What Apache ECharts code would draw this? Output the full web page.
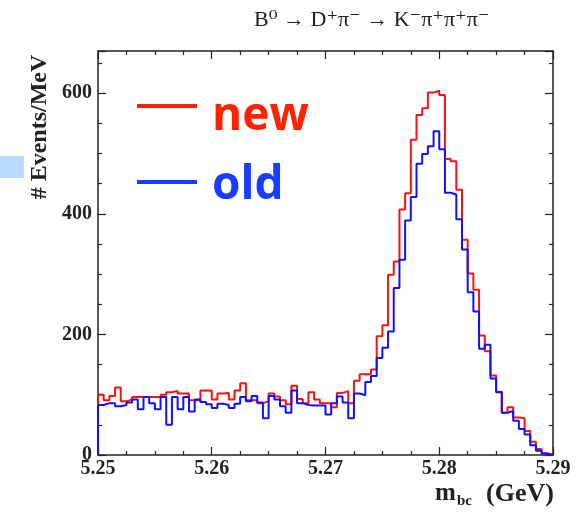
<!DOCTYPE html>
<html>
<head>
<meta charset="utf-8">
<script src="https://cdn.jsdelivr.net/npm/echarts@6/dist/echarts.min.js"></script>
<style>html,body{margin:0;padding:0;background:#fff;}#c{width:583px;height:512px;}</style>
</head>
<body>
<div id="c"></div>
<script>
// Histogram binning (GeV): 80 bins of 0.5 MeV from 5.25 to 5.29
const binStart = 5.25;
const binWidth = 0.0005;

// "new" reconstruction (red)
const newCounts = [
  100, 91, 98, 112, 89, 92, 96, 96, 96, 96,
  96, 100, 104, 106, 102, 102, 91, 91, 107, 107,
  92, 102, 103, 92, 107, 119, 91, 91, 86, 89,
  102, 97, 91, 84, 115, 93, 86, 104, 92, 86,
  86, 79, 103, 106, 86, 123, 134, 134, 142, 197,
  215, 299, 321, 407, 434, 523, 564, 575, 601, 604,
  597, 491, 487, 440, 357, 301, 274, 198, 172, 132,
  105, 70, 79, 62, 61, 40, 22, 10, 3, 0
];

// "old" reconstruction (blue)
const oldCounts = [
  83, 86, 86, 81, 83, 87, 92, 76, 96, 86,
  76, 96, 50, 96, 76, 96, 72, 92, 88, 84,
  78, 85, 83, 78, 85, 96, 89, 98, 87, 61,
  98, 92, 81, 70, 107, 86, 83, 82, 82, 82,
  67, 86, 97, 87, 61, 102, 99, 121, 131, 161,
  178, 205, 277, 324, 389, 428, 483, 499, 512, 537,
  507, 435, 432, 391, 341, 270, 238, 176, 183, 127,
  104, 70, 73, 57, 43, 34, 16, 7, 2, 0
];

const xTickLabels = [5.25, 5.26, 5.27, 5.28, 5.29];
const yTickLabels = [0, 200, 400, 600];
const legendNames = ['new', 'old'];

const xMin = xTickLabels[0], xMax = xTickLabels[xTickLabels.length - 1];
const yMax = 670;

function steps(counts) {
  const pts = [[binStart, 0]];
  counts.forEach((v, i) => pts.push([binStart + i * binWidth, v]));
  pts.push([binStart + counts.length * binWidth, 0]);
  return pts;
}

const serif = '"Liberation Serif", "DejaVu Serif", serif';
const sans = '"Open Sans", "Liberation Sans", Arial, sans-serif';
const axisColor = '#222';

const chart = echarts.init(document.getElementById('c'), null, {renderer: 'canvas'});

const tickCommon = {
  axisLine: {show: true, onZero: false, lineStyle: {color: axisColor, width: 1.5}},
  axisTick: {show: true, inside: true, length: 8, lineStyle: {color: axisColor, width: 1.2}},
  minorTick: {show: true, splitNumber: 4, length: 4, lineStyle: {color: axisColor, width: 1.2}},
  splitLine: {show: false},
  minorSplitLine: {show: false}
};

chart.setOption({
  animation: false,
  backgroundColor: '#fff',
  grid: {left: 98, right: 30, top: 51, bottom: 57, containLabel: false},
  xAxis: [
    Object.assign({
      type: 'value', min: xMin, max: xMax, interval: 0.01, position: 'bottom',
      axisLabel: {
        show: true, margin: 4, color: '#222', fontFamily: serif, fontSize: 20, fontWeight: 'bold',
        formatter: v => {
          const m = xTickLabels.find(t => Math.abs(t - v) < 1e-6);
          return m === undefined ? '' : m.toFixed(2);
        }
      }
    }, tickCommon),
    Object.assign({
      type: 'value', min: xMin, max: xMax, interval: 0.01, position: 'top',
      axisLabel: {show: false}
    }, tickCommon)
  ],
  yAxis: [
    Object.assign({
      type: 'value', min: 0, max: yMax, interval: 200, position: 'left',
      axisLabel: {
        show: true, margin: 6, color: '#222', fontFamily: serif, fontSize: 20, fontWeight: 'bold',
        showMaxLabel: false,
        formatter: v => yTickLabels.indexOf(Math.round(v)) >= 0 ? String(Math.round(v)) : ''
      }
    }, tickCommon),
    Object.assign({
      type: 'value', min: 0, max: yMax, interval: 200, position: 'right',
      axisLabel: {show: false}
    }, tickCommon)
  ],
  series: [
    {
      name: legendNames[0], type: 'line', step: 'end', showSymbol: false,
      xAxisIndex: 0, yAxisIndex: 0,
      data: steps(newCounts),
      lineStyle: {color: '#ff1010', width: 2},
      itemStyle: {color: '#ff1010'},
      z: 2
    },
    {
      name: legendNames[1], type: 'line', step: 'end', showSymbol: false,
      xAxisIndex: 0, yAxisIndex: 0,
      data: steps(oldCounts),
      lineStyle: {color: '#1010ff', width: 2},
      itemStyle: {color: '#1010ff'},
      z: 3
    }
  ],
  graphic: [
    {
      type: 'text', left: 254, top: 9,
      style: {text: 'B⁰ → D⁺π⁻ → K⁻π⁺π⁺π⁻', font: '22px ' + serif, fill: '#222'}
    },
    {
      type: 'text', x: 40, y: 127, rotation: Math.PI / 2,
      style: {text: '# Events/MeV', font: 'bold 24px ' + serif, fill: '#222', align: 'center', verticalAlign: 'middle'}
    },
    {
      type: 'text', x: 435, y: 494,
      style: {text: 'm', font: 'bold 25px ' + serif, fill: '#222', align: 'left', verticalAlign: 'middle'}
    },
    {
      type: 'text', x: 457, y: 501,
      style: {text: 'bc', font: 'bold 15px ' + serif, fill: '#222', align: 'left', verticalAlign: 'middle'}
    },
    {
      type: 'text', x: 486, y: 494,
      style: {text: '(GeV)', font: 'bold 26px ' + serif, fill: '#222', align: 'left', verticalAlign: 'middle'}
    },
    {
      type: 'rect', shape: {x: 0, y: 156, width: 24, height: 22},
      style: {fill: '#b9dcff'}
    },
    {
      type: 'line', shape: {x1: 137, y1: 106, x2: 197, y2: 106},
      style: {stroke: '#ff2200', lineWidth: 4}
    },
    {
      type: 'text', x: 212, y: 117,
      style: {text: legendNames[0], font: 'bold 46px ' + sans, fill: '#ff2200', verticalAlign: 'middle'}
    },
    {
      type: 'line', shape: {x1: 137, y1: 182, x2: 197, y2: 182},
      style: {stroke: '#1a3cff', lineWidth: 4}
    },
    {
      type: 'text', x: 212, y: 186,
      style: {text: legendNames[1], font: 'bold 46px ' + sans, fill: '#1a3cff', verticalAlign: 'middle'}
    }
  ]
});
</script>
</body>
</html>
